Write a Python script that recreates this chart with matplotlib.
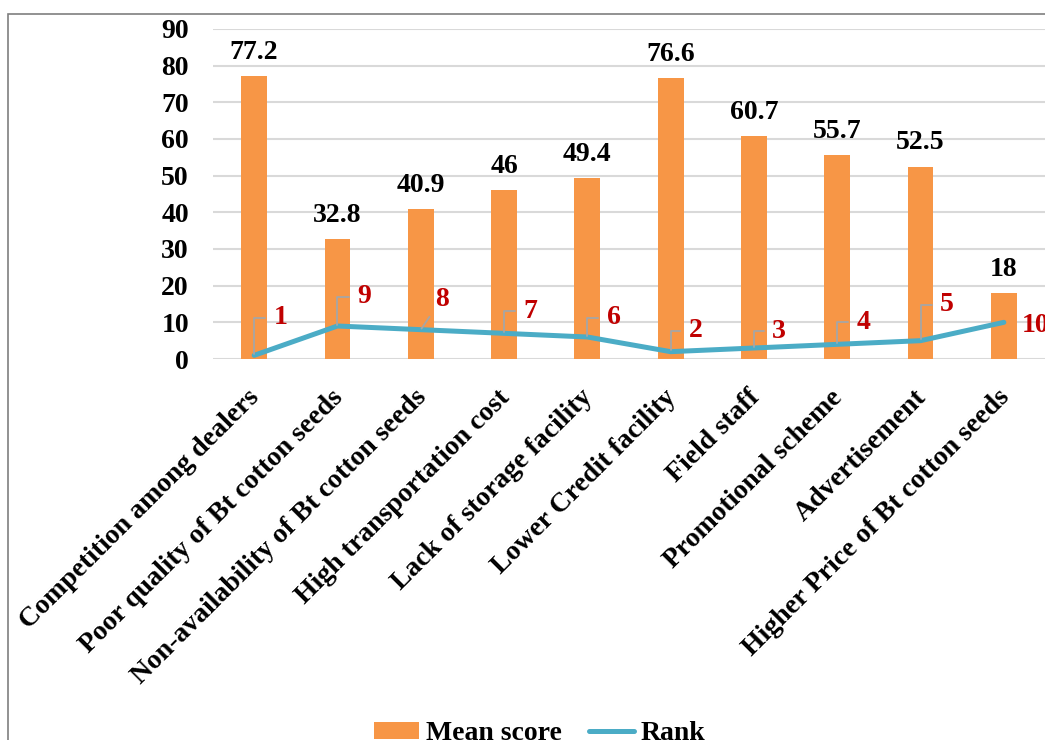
import matplotlib
matplotlib.use("Agg")
import matplotlib.pyplot as plt
import matplotlib.transforms as mtransforms
from matplotlib.patches import Rectangle, Patch
from matplotlib.lines import Line2D

categories = ["Competition among dealers", "Poor quality of Bt cotton seeds",
              "Non-availability of Bt cotton seeds", "High transportation cost",
              "Lack of storage facility", "Lower Credit facility", "Field staff",
              "Promotional scheme", "Advertisement", "Higher Price of Bt cotton seeds"]
mean_score = [77.2, 32.8, 40.9, 46, 49.4, 76.6, 60.7, 55.7, 52.5, 18]
rank = [1, 9, 8, 7, 6, 2, 3, 4, 5, 10]
yticks = [0, 10, 20, 30, 40, 50, 60, 70, 80, 90]

# label placement offsets (points) and leader styles for rank labels, styling only
rank_label_offsets = [(14, 27), (14, 21), (10, 22), (14, 16), (14, 14),
                      (13, 15), (13, 12), (14, 16), (14, 26), (13, -2)]
leader_styles = ["angle", "angle", "straight", "angle", "angle",
                 "angle", "angle", "angle", "angle", None]

BAR = "#F79646"
LINE = "#4BACC6"
RED = "#C00000"
FONT = "Liberation Serif"
FS = 20

plt.rcParams["font.family"] = [FONT, "DejaVu Serif"]
plt.rcParams["font.weight"] = "bold"

fig = plt.figure(figsize=(10.45, 7.4), dpi=100)
fig.patches.append(Rectangle((8/1045, -0.1), 1.2, (740-14)/740 + 0.1, transform=fig.transFigure,
                             fill=False, edgecolor="#7f7f7f", linewidth=1.2, zorder=0))

ax = fig.add_axes([212.5/1045, (740-359)/740, 833/1045, 330/740])
x = list(range(len(categories)))
ax.bar(x, mean_score, width=0.31, color=BAR, zorder=2)
ax.plot(x, rank, color=LINE, linewidth=3.6, solid_capstyle="round", zorder=3)

for xi, v in zip(x, mean_score):
    ax.annotate(f"{v:g}", (xi, v), xytext=(0, 8), textcoords="offset points",
                ha="center", va="bottom", fontsize=FS, fontweight="bold", color="black")

for xi, r, (dx, dy), style in zip(x, rank, rank_label_offsets, leader_styles):
    props = None
    if style == "angle":
        props = dict(arrowstyle="-", color="#A6A6A6", lw=1.3, shrinkA=4, shrinkB=1,
                     connectionstyle="angle,angleA=180,angleB=90,rad=0")
    elif style == "straight":
        props = dict(arrowstyle="-", color="#A6A6A6", lw=1.3, shrinkA=3, shrinkB=1,
                     connectionstyle="arc3")
    ax.annotate(str(r), (xi, r), xytext=(dx, dy), textcoords="offset points",
                ha="left", va="center", fontsize=FS, fontweight="bold", color=RED, zorder=4,
                arrowprops=props, annotation_clip=False)

ax.set_xlim(-0.5, len(categories) - 0.5)
ax.set_ylim(0, 90)
ax.set_yticks(yticks)
ax.set_yticklabels([str(t) for t in yticks], fontsize=FS, fontweight="bold")
ax.set_xticks(x)
ax.set_xticklabels([])
shift = mtransforms.ScaledTranslation(-0.07, -0.26, fig.dpi_scale_trans)
for xi, cat in zip(x, categories):
    ax.text(xi, 0, cat, transform=ax.get_xaxis_transform() + shift, rotation=45,
            ha="right", va="top", rotation_mode="anchor", fontsize=FS, fontweight="bold",
            clip_on=False)
ax.tick_params(axis="both", length=0)
ax.tick_params(axis="y", pad=17)
ax.grid(axis="y", color="#D9D9D9", linewidth=1.5, zorder=0)
ax.set_axisbelow(True)
for s in ax.spines.values():
    s.set_visible(False)

handles = [Patch(facecolor=BAR, edgecolor="none"),
           Line2D([0], [0], color=LINE, linewidth=3.6, solid_capstyle="round")]
fig.legend(handles, ["Mean score", "Rank"], loc="center", bbox_to_anchor=(540/1045, 1 - 734/740),
           ncol=2, frameon=False, prop={"family": FONT, "weight": "bold", "size": FS},
           handlelength=1.6, handleheight=0.55, handletextpad=0.25, columnspacing=1.0)

fig.savefig("out.png", dpi=100)
